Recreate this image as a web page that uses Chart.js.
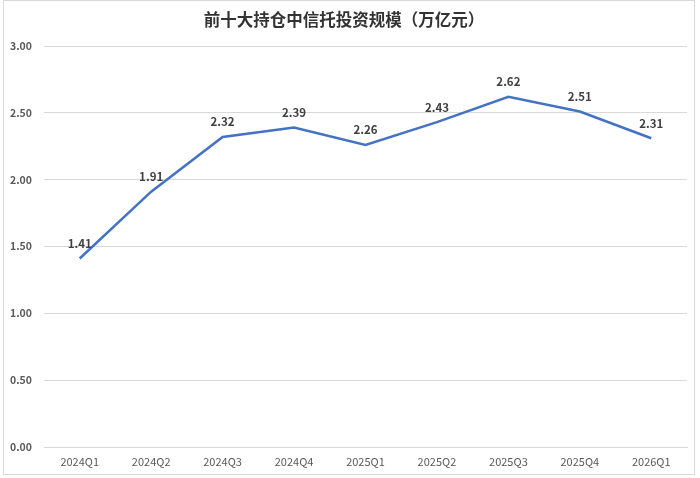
<!DOCTYPE html>
<html>
<head>
<meta charset="utf-8">
<script src="https://cdn.jsdelivr.net/npm/chart.js@4/dist/chart.umd.min.js"></script>
<style>
  html, body { margin: 0; padding: 0; background: #ffffff; }
  #wrap { position: relative; width: 700px; height: 478px; }
</style>
</head>
<body>
<div id="wrap"><canvas id="c" width="700" height="478"></canvas></div>
<script>
const titleText = '前十大持仓中信托投资规模（万亿元）';
const categories = ['2024Q1','2024Q2','2024Q3','2024Q4','2025Q1','2025Q2','2025Q3','2025Q4','2026Q1'];
const values = [1.41, 1.91, 2.32, 2.39, 2.26, 2.43, 2.62, 2.51, 2.31];
const yTicks = [0, 0.5, 1.0, 1.5, 2.0, 2.5, 3.0];

const FONT = '"Noto Sans CJK SC", "Noto Sans", "Liberation Sans", sans-serif';

const framePlugin = {
  id: 'frame',
  beforeDraw(chart) {
    const ctx = chart.ctx;
    ctx.save();
    ctx.fillStyle = '#ffffff';
    ctx.fillRect(0, 0, chart.width, chart.height);
    ctx.strokeStyle = '#d9d9d9';
    ctx.lineWidth = 1;
    ctx.strokeRect(3.5, 0.5, 691, 474);
    ctx.restore();
  }
};

const titlePlugin = {
  id: 'customTitle',
  afterDraw(chart) {
    const ctx = chart.ctx;
    ctx.save();
    ctx.font = 'bold 16.5px ' + FONT;
    ctx.fillStyle = '#333333';
    ctx.textAlign = 'center';
    ctx.textBaseline = 'middle';
    ctx.fillText(titleText, 344, 20);
    ctx.restore();
  }
};

const labelPlugin = {
  id: 'dataLabels',
  afterDatasetsDraw(chart) {
    const ctx = chart.ctx;
    const meta = chart.getDatasetMeta(0);
    ctx.save();
    ctx.font = 'bold 11.5px ' + FONT;
    ctx.fillStyle = '#404040';
    ctx.textAlign = 'center';
    ctx.textBaseline = 'middle';
    meta.data.forEach((pt, i) => {
      ctx.fillText(values[i].toFixed(2), pt.x, pt.y - 15);
    });
    ctx.restore();
  }
};

new Chart(document.getElementById('c'), {
  type: 'line',
  data: {
    labels: categories,
    datasets: [{
      data: values,
      borderColor: '#4472C4',
      borderWidth: 2.5,
      pointRadius: 0,
      pointHoverRadius: 0,
      tension: 0,
      fill: false
    }]
  },
  options: {
    responsive: false,
    animation: false,
    devicePixelRatio: 1,
    layout: { padding: { top: 46, right: 13, bottom: 0, left: 0 } },
    plugins: {
      legend: { display: false },
      title: { display: false },
      tooltip: { enabled: false }
    },
    scales: {
      x: {
        type: 'category',
        offset: true,
        grid: { display: false, drawTicks: false },
        border: { display: true, color: '#d9d9d9', width: 1 },
        ticks: {
          font: { family: FONT, size: 11 },
          color: '#595959',
          padding: 8,
          maxRotation: 0,
          autoSkip: false
        },
        afterFit(scale) { scale.height = 31; }
      },
      y: {
        min: 0,
        max: 3,
        afterBuildTicks(scale) { scale.ticks = yTicks.map(v => ({ value: v })); },
        grid: { color: '#d9d9d9', drawTicks: false, lineWidth: 1 },
        border: { display: false },
        ticks: {
          font: { family: FONT, size: 10.5, weight: 'bold' },
          color: '#595959',
          padding: 12,
          callback: v => Number(v).toFixed(2)
        },
        afterFit(scale) { scale.width = 44; }
      }
    }
  },
  plugins: [framePlugin, titlePlugin, labelPlugin]
});
</script>
</body>
</html>
